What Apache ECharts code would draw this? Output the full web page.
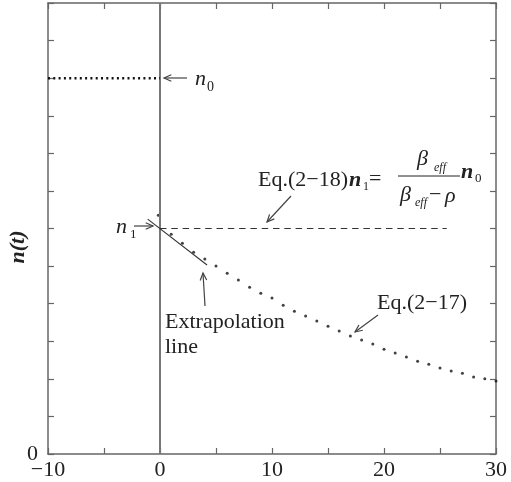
<!DOCTYPE html>
<html>
<head>
<meta charset="utf-8">
<script src="https://cdn.jsdelivr.net/npm/echarts@6/dist/echarts.min.js"></script>
<style>
  html, body { margin: 0; padding: 0; background: #fff; }
  #chart { width: 511px; height: 482px; }
</style>
</head>
<body>
<div id="chart"></div>
<script>
// 时间 t 与 Eq.(2-17) 的点
const timeSteps = [-0.15, 1, 2, 3, 4, 5, 6, 7, 8, 9, 10, 11, 12, 13, 14, 15, 16, 17, 18, 19, 20, 21, 22, 23, 24, 25, 26, 27, 28, 29, 30];
const eq17Values = [6.35, 5.85, 5.61, 5.37, 5.19, 5.0, 4.81, 4.63, 4.44, 4.28, 4.15, 3.96, 3.80, 3.67, 3.54, 3.40, 3.27, 3.14, 3.03, 2.93, 2.79, 2.69, 2.58, 2.47, 2.39, 2.29, 2.21, 2.15, 2.05, 2.0, 1.94];

// 水平参考线 n0 / n1，以及外推线
const n0Line = [[-10, 10], [0, 10]];
const n1Line = [[0, 6], [25.6, 6]];
const extrapLine = [[-1.1, 6.25], [4.2, 5.03]];
const zeroLine = [[0, 0], [0, 12]];

const xRange = [-10, 30];
const yRange = [0, 12];
const xLabels = [-10, 0, 10, 20, 30];

const SERIF = '"Liberation Serif", "DejaVu Serif", serif';
const INK = '#222';

function fmtX(v) {
  if (xLabels.indexOf(v) < 0) return '';
  return v < 0 ? '\u2212' + (-v) : String(v);
}

function arrow(x1, y1, x2, y2) {
  const a = Math.atan2(y2 - y1, x2 - x1);
  const h = 8, s = 0.42;
  return [
    { type: 'line', z: 20, shape: { x1, y1, x2, y2 }, style: { stroke: '#444', lineWidth: 1.2 } },
    {
      type: 'polyline', z: 20,
      shape: { points: [
        [x2 - h * Math.cos(a - s), y2 - h * Math.sin(a - s)],
        [x2, y2],
        [x2 - h * Math.cos(a + s), y2 - h * Math.sin(a + s)]
      ] },
      style: { stroke: '#444', fill: null, lineWidth: 1.2 }
    }
  ];
}

function txt(text, x, y, size, extra) {
  return {
    type: 'text', z: 20,
    style: Object.assign({
      text, x, y, fill: INK, align: 'left', verticalAlign: 'middle',
      font: size + 'px ' + SERIF
    }, extra || {})
  };
}

function italic(text, x, y, size, bold) {
  return txt(text, x, y, size, { font: 'italic ' + (bold ? 'bold ' : '') + size + 'px ' + SERIF });
}

const dom = document.getElementById('chart');
const chart = echarts.init(dom);

const axisLine = { show: true, onZero: false, lineStyle: { color: '#666', width: 1.5 } };
const tick = { show: true, inside: true, length: 6, lineStyle: { color: '#666', width: 1.2 } };

const graphics = [].concat(
  // n0
  arrow(187, 78, 164, 78),
  italic('n', 195, 79, 22),
  txt('0', 207, 87, 14),
  // n1
  italic('n', 116, 227, 22),
  txt('1', 130, 235, 13),
  arrow(134, 226, 153, 226),
  // Eq.(2-18)
  txt('Eq.(2\u221218)', 258, 180, 22),
  italic('n', 349, 180, 22, true),
  txt('1', 363, 187, 12),
  txt('=', 369, 179, 22),
  italic('\u03b2', 417, 159, 22),
  italic('eff', 434, 168, 12),
  { type: 'line', z: 20, shape: { x1: 398, y1: 176, x2: 460, y2: 176 }, style: { stroke: INK, lineWidth: 1 } },
  italic('\u03b2', 400, 195, 22),
  italic('eff', 415, 203, 12),
  txt('\u2212', 429, 195, 22),
  italic('\u03c1', 445, 196, 22),
  italic('n', 461, 172, 22, true),
  txt('0', 475, 179, 13),
  arrow(291, 196, 267, 222),
  // Extrapolation line
  txt('Extrapolation', 165, 322, 22),
  txt('line', 165, 347, 22),
  arrow(205, 306, 203, 273),
  // Eq.(2-17)
  txt('Eq.(2\u221217)', 377, 303, 22),
  arrow(378, 315, 355, 332),
  // y 轴名称 n(t)
  {
    type: 'text', z: 20, x: 18, y: 247, rotation: Math.PI / 2,
    style: { text: 'n(t)', fill: INK, align: 'center', verticalAlign: 'middle', font: 'italic bold 22px ' + SERIF }
  }
);

const option = {
  animation: false,
  backgroundColor: '#fff',
  grid: { left: 48, right: 15, top: 3, bottom: 28 },
  xAxis: [
    {
      type: 'value', min: xRange[0], max: xRange[1], interval: 5,
      axisLine, axisTick: tick, splitLine: { show: false },
      axisLabel: { formatter: fmtX, color: INK, fontFamily: SERIF, fontSize: 22, margin: 5, showMinLabel: true, showMaxLabel: true }
    },
    {
      type: 'value', position: 'top', min: xRange[0], max: xRange[1], interval: 5,
      axisLine, axisTick: tick, splitLine: { show: false }, axisLabel: { show: false }
    }
  ],
  yAxis: [
    {
      type: 'value', min: yRange[0], max: yRange[1], interval: 1,
      axisLine, axisTick: tick, splitLine: { show: false },
      axisLabel: { formatter: v => (v === 0 ? '0' : ''), color: INK, fontFamily: SERIF, fontSize: 22, margin: 10 }
    },
    {
      type: 'value', position: 'right', min: yRange[0], max: yRange[1], interval: 1,
      axisLine, axisTick: tick, splitLine: { show: false }, axisLabel: { show: false }
    }
  ],
  series: [
    {
      type: 'line', data: zeroLine, symbol: 'none', silent: true,
      lineStyle: { color: '#777', width: 2 }
    },
    {
      type: 'line', data: n0Line, symbol: 'none', silent: true,
      lineStyle: { color: '#111', width: 2.5, type: [2, 3.3] }
    },
    {
      type: 'line', data: n1Line, symbol: 'none', silent: true,
      lineStyle: { color: '#333', width: 1.2, type: [6.5, 4.8] }
    },
    {
      type: 'line', data: extrapLine, symbol: 'none', silent: true,
      lineStyle: { color: '#333', width: 1.1 }
    },
    {
      type: 'scatter', symbol: 'circle', symbolSize: 3, silent: true,
      itemStyle: { color: '#111' },
      data: timeSteps.map((t, i) => [t, eq17Values[i]])
    }
  ],
  graphic: graphics
};

chart.setOption(option);
</script>
</body>
</html>
